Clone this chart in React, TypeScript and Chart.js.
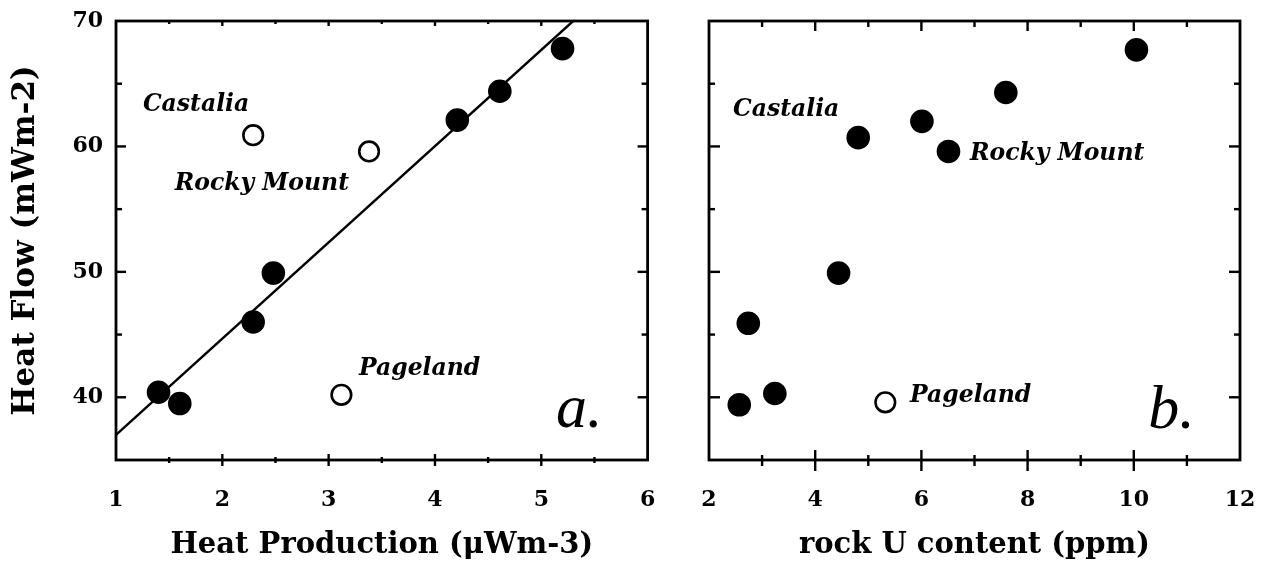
import React, { useEffect, useRef } from "react";
import { Chart, registerables } from "chart.js";

Chart.register(...registerables);

const SERIF = "'DejaVu Serif', 'Liberation Serif', serif";
const TAG_FONT = "'Liberation Serif', serif";

// ---- Panel a: heat flow vs heat production ----
const heatProdFilled = [1.4, 1.6, 2.29, 2.48, 4.21, 4.61, 5.2];
const heatFlowFilledA = [40.4, 39.5, 46.0, 49.9, 62.1, 64.4, 67.8];
const heatProdOpen = [2.29, 3.38, 3.12];
const heatFlowOpenA = [60.9, 59.6, 40.2];
const fitX = [1.0, 5.3];
const fitY = [37.0, 70.0];
const xTicksA = [1, 2, 3, 4, 5, 6];

// ---- Panel b: heat flow vs rock U content ----
const uFilled = [2.57, 2.74, 3.24, 4.44, 4.81, 6.01, 6.51, 7.59, 10.05];
const heatFlowFilledB = [39.4, 45.9, 40.3, 49.9, 60.7, 62.0, 59.6, 64.3, 67.7];
const uOpen = [5.32];
const heatFlowOpenB = [39.6];
const xTicksB = [2, 4, 6, 8, 10, 12];

// y axis (shared)
const yTicks = [40, 50, 60, 70];

// site labels (text, data x, data y)
const siteNames = ["Castalia", "Rocky Mount", "Pageland"];
const siteLabelXA = [1.253, 1.552, 3.285];
const siteLabelYA = [63.35, 57.0, 42.25];
const siteLabelXB = [2.452, 6.915, 5.785];
const siteLabelYB = [62.9, 59.4, 40.1];

type PanelProps = {
  left: number;
  width: number;
  height: number;
  chartLeft: number;
  chartRight: number;
  chartTop: number;
  chartBottom: number;
  xMin: number;
  xMax: number;
  xMinor: number;
  xTickList: number[];
  yMin: number;
  yMax: number;
  yMinor: number;
  xTitle: string;
  yTitle?: string;
  filledX: number[];
  filledY: number[];
  openX: number[];
  openY: number[];
  lineX?: number[];
  lineY?: number[];
  labelX: number[];
  labelY: number[];
  tag: string;
  tagX: number;
  tagY: number;
  tk: { bMajIn: number; bMajOut: number; bMinIn: number; bMinOut: number; maj: number; min: number; topMaj: number; topMin: number };
};

function Panel(p: PanelProps) {
  const ref = useRef<HTMLCanvasElement | null>(null);

  useEffect(() => {
    if (!ref.current) return;
    const datasets: any[] = [];
    if (p.lineX && p.lineY) {
      datasets.push({
        data: p.lineX.map((x, i) => ({ x, y: p.lineY![i] })),
        showLine: true,
        borderColor: "#000",
        borderWidth: 2.4,
        pointRadius: 0,
        order: 3,
      });
    }
    datasets.push({
      data: p.filledX.map((x, i) => ({ x, y: p.filledY[i] })),
      backgroundColor: "#000",
      borderColor: "#000",
      borderWidth: 0,
      pointRadius: 11.8,
      order: 1,
    });
    datasets.push({
      data: p.openX.map((x, i) => ({ x, y: p.openY[i] })),
      backgroundColor: "#fff",
      borderColor: "#000",
      borderWidth: 2.6,
      pointRadius: 9.8,
      order: 0,
    });

    const framePlugin = {
      id: "frameTicks",
      afterDatasetsDraw(chart: any) {
        const ctx = chart.ctx as CanvasRenderingContext2D;
        const { left, right, top, bottom } = chart.chartArea;
        const xs = chart.scales.x;
        const ys = chart.scales.y;
        const seg = (x1: number, y1: number, x2: number, y2: number) => {
          ctx.beginPath();
          ctx.moveTo(x1, y1);
          ctx.lineTo(x2, y2);
          ctx.stroke();
        };
        ctx.save();
        ctx.strokeStyle = "#000";
        ctx.lineWidth = 2.8;
        ctx.strokeRect(left, top, right - left, bottom - top);
        ctx.lineWidth = 2.4;
        const t = p.tk;
        // x ticks
        const nx = Math.round((p.xMax - p.xMin) / p.xMinor);
        for (let i = 1; i < nx; i++) {
          const v = p.xMin + i * p.xMinor;
          const px = xs.getPixelForValue(v);
          const major = p.xTickList.some((m) => Math.abs(m - v) < 1e-6);
          if (major) {
            seg(px, bottom - t.bMajIn, px, bottom + t.bMajOut);
            seg(px, top, px, top + t.topMaj);
          } else {
            seg(px, bottom - t.bMinIn, px, bottom + t.bMinOut);
            seg(px, top, px, top + t.topMin);
          }
        }
        // y ticks
        const ny = Math.round((p.yMax - p.yMin) / p.yMinor);
        for (let i = 1; i < ny; i++) {
          const v = p.yMin + i * p.yMinor;
          const py = ys.getPixelForValue(v);
          const major = yTicks.some((m) => Math.abs(m - v) < 1e-6);
          const len = major ? t.maj : t.min;
          seg(left, py, left + len, py);
          seg(right, py, right - len, py);
        }
        // site labels
        ctx.fillStyle = "#000";
        ctx.font = `italic bold 23.5px ${SERIF}`;
        ctx.textAlign = "left";
        ctx.textBaseline = "middle";
        siteNames.forEach((name, i) => {
          ctx.fillText(name, xs.getPixelForValue(p.labelX[i]), ys.getPixelForValue(p.labelY[i]));
        });
        // panel tag
        ctx.font = `italic 62px ${TAG_FONT}`;
        ctx.textBaseline = "alphabetic";
        ctx.fillText(p.tag, xs.getPixelForValue(p.tagX), ys.getPixelForValue(p.tagY));
        ctx.restore();
      },
    };

    const tickFont = { family: SERIF, size: 22, weight: "bold" as const };
    const xTitleFont = { family: SERIF, size: 29, weight: "bold" as const };
    const yTitleFont = { family: SERIF, size: 31, weight: "bold" as const };

    const chart = new Chart(ref.current, {
      type: "scatter",
      data: { datasets },
      options: {
        animation: false,
        responsive: false,
        maintainAspectRatio: false,
        layout: { padding: { top: p.chartTop, right: p.width - p.chartRight, left: 0, bottom: 0 } },
        plugins: { legend: { display: false }, tooltip: { enabled: false } },
        scales: {
          x: {
            type: "linear",
            min: p.xMin,
            max: p.xMax,
            grid: { display: false, drawTicks: false },
            border: { display: false },
            afterBuildTicks: (s: any) => {
              s.ticks = p.xTickList.map((v) => ({ value: v }));
            },
            ticks: { font: tickFont, color: "#000", padding: 27, maxRotation: 0, autoSkip: false },
            title: { display: true, text: p.xTitle, font: xTitleFont, color: "#000", padding: { top: 0, bottom: 6 } },
            afterFit: (s: any) => {
              s.height = p.height - p.chartBottom;
              s.paddingLeft = 0;
              s.paddingRight = 0;
            },
          },
          y: {
            type: "linear",
            min: p.yMin,
            max: p.yMax,
            grid: { display: false, drawTicks: false },
            border: { display: false },
            afterBuildTicks: (s: any) => {
              s.ticks = yTicks.map((v) => ({ value: v }));
            },
            ticks: { display: !!p.yTitle, font: tickFont, color: "#000", padding: 13 },
            title: p.yTitle
              ? { display: true, text: p.yTitle, font: yTitleFont, color: "#000", padding: { top: 7, bottom: 0 } }
              : { display: false },
            afterFit: (s: any) => {
              s.width = p.chartLeft;
              s.paddingTop = 0;
              s.paddingBottom = 0;
            },
          },
        },
      } as any,
      plugins: [framePlugin],
    });
    return () => chart.destroy();
  }, []);

  return (
    <canvas
      ref={ref}
      width={p.width}
      height={p.height}
      style={{ position: "absolute", left: p.left, top: 0, width: p.width, height: p.height, display: "block" }}
    />
  );
}

export default function App() {
  const H = 569;
  return (
    <div style={{ position: "absolute", left: 0, top: 0, width: 1266, height: H, background: "#fff", overflow: "hidden" }}>
      <Panel
        left={0}
        width={660}
        height={H}
        chartLeft={116}
        chartRight={650}
        chartTop={21}
        chartBottom={460}
        xMin={1}
        xMax={6}
        xMinor={0.5}
        xTickList={xTicksA}
        yMin={35}
        yMax={70}
        yMinor={5}
        xTitle="Heat Production (μWm-3)"
        yTitle="Heat Flow (mWm-2)"
        filledX={heatProdFilled}
        filledY={heatFlowFilledA}
        openX={heatProdOpen}
        openY={heatFlowOpenA}
        lineX={fitX}
        lineY={fitY}
        labelX={siteLabelXA}
        labelY={siteLabelYA}
        tag="a."
        tagX={5.139}
        tagY={37.6}
        tk={{ bMajIn: 6, bMajOut: 6, bMinIn: 3, bMinOut: 3, maj: 10, min: 6, topMaj: 5, topMin: 3 }}
      />
      <Panel
        left={660}
        width={606}
        height={H}
        chartLeft={49}
        chartRight={580}
        chartTop={21}
        chartBottom={460}
        xMin={2}
        xMax={12}
        xMinor={1}
        xTickList={xTicksB}
        yMin={35}
        yMax={70}
        yMinor={5}
        xTitle="rock U content (ppm)"
        filledX={uFilled}
        filledY={heatFlowFilledB}
        openX={uOpen}
        openY={heatFlowOpenB}
        labelX={siteLabelXB}
        labelY={siteLabelYB}
        tag="b."
        tagX={10.27}
        tagY={37.55}
        tk={{ bMajIn: 10, bMajOut: 11, bMinIn: 5, bMinOut: 6, maj: 11, min: 6, topMaj: 10, topMin: 6 }}
      />
    </div>
  );
}
